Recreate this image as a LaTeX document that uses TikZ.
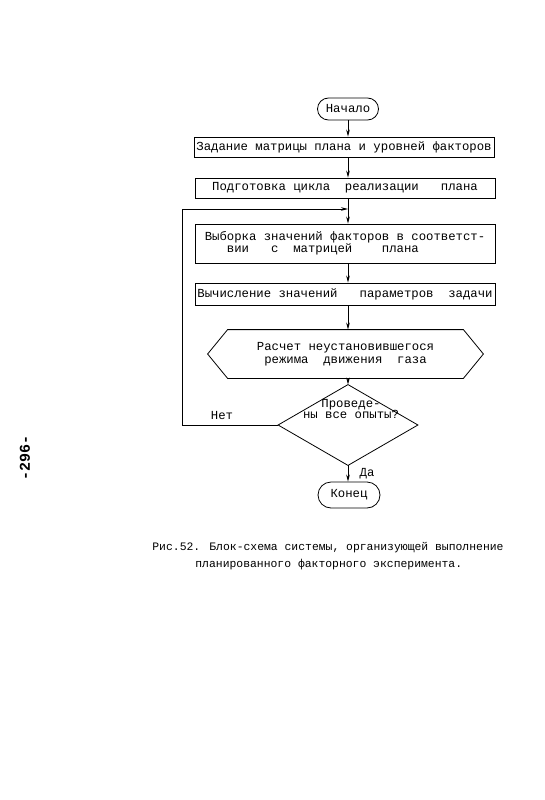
\documentclass[tikz,border=0pt]{standalone}
\usepackage{fontspec}
\setmainfont{Liberation Mono}
\usetikzlibrary{arrows.meta}
\begin{document}
\begin{tikzpicture}[x=1pt,y=-1pt,
  line width=0.8pt,
  boxfont/.style={font=\fontsize{12.3}{11.5}\selectfont},
  box/.style={draw, minimum width=300pt, inner sep=0pt, boxfont},
  term/.style={draw, inner sep=0pt, boxfont},
  plain/.style={inner sep=0pt, boxfont},
  arr/.style={-{Stealth[length=7pt,width=3.6pt]}},
  captxt/.style={inner sep=0pt, anchor=base west, font=\fontsize{11.4}{14}\selectfont}]
\useasboundingbox[fill=white] (0,0) rectangle (545,800);
\coordinate (ax) at (348,0);
\coordinate (lx) at (182,0);
% nodes
\node[term, minimum width=61pt, minimum height=22pt, rounded corners=11pt] (start) at (348,109) {Начало};
\node[box, minimum height=20pt] (b1) at (344,147) {Задание матрицы плана и уровней факторов};
\node[box, minimum height=20pt] (b2) at (345,188) {Подготовка цикла~~реализации~~~плана};
\node[box, minimum height=39pt, align=left] (b3) at (345,243.5) {Выборка значений факторов в соответст-\\[1pt]~~~вии~~~с~~матрицей~~~~плана};
\node[box, minimum height=22pt] (b4) at (345,294) {Вычисление значений~~~параметров~~задачи};
\node[plain, minimum width=275pt, minimum height=48pt, align=center] (hex) at (345.5,354) {Расчет неустановившегося\\[1pt]режима~~движения~~газа};
\draw (hex.west) -- ([xshift=20pt]hex.north west) -- ([xshift=-20pt]hex.north east) -- (hex.east) -- ([xshift=-20pt]hex.south east) -- ([xshift=20pt]hex.south west) -- cycle;
\node[plain, minimum width=139pt, minimum height=80pt] (dec) at (348,425) {};
\draw (dec.north) -- (dec.east) -- (dec.south) -- (dec.west) -- cycle;
\node[plain, align=center] (dectxt) at (351,409) {Проведе-\\ны все опыты?};
\node[term, minimum width=62pt, minimum height=26pt, rounded corners=13pt] (end) at (349,495) {Конец};
\node[plain] (net) at (222,416) {Нет};
\node[plain] (da) at (367,474) {Да};
\coordinate (j) at (348,209);
% connectors
\draw[arr] (start.south -| ax) -- (b1.north -| ax);
\draw[arr] (b1.south -| ax) -- (b2.north -| ax);
\draw[arr] (b2.south -| ax) -- (b3.north -| ax);
\draw[arr] (b3.south -| ax) -- (b4.north -| ax);
\draw[arr] (b4.south -| ax) -- (hex.north -| ax);
\draw[arr] (hex.south -| ax) -- (dec.north);
\draw[arr] (dec.south) -- (end.north -| ax);
\draw[arr] (dec.west) -- (dec.west -| lx) |- (j);
% caption
\node[captxt] (cap1) at (152,550) {Рис.52. Блок-схема системы, организующей выполнение};
\node[captxt] (cap2) at (195,567) {планированного факторного эксперимента.};
\node[inner sep=0pt, rotate=90, font=\fontsize{15}{15}\selectfont\bfseries] (page) at (25,458) {-296-};
\end{tikzpicture}
\end{document}
